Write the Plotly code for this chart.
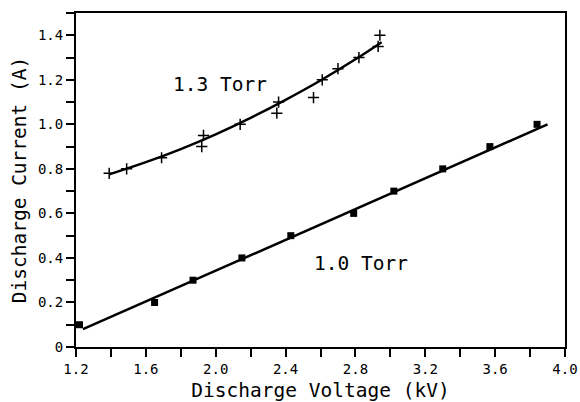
import plotly.graph_objects as go

# 1.0 Torr data (squares)
v10 = [1.22, 1.65, 1.87, 2.15, 2.43, 2.79, 3.02, 3.30, 3.57, 3.84]
i10 = [0.10, 0.20, 0.30, 0.40, 0.50, 0.60, 0.70, 0.80, 0.90, 1.00]
# 1.0 Torr fitted line endpoints
fit10_v = [1.24, 3.90]
fit10_i = [0.08, 1.00]

# 1.3 Torr data (pluses)
v13 = [1.39, 1.49, 1.69, 1.92, 1.93, 2.14, 2.35, 2.36, 2.56, 2.61, 2.70, 2.82, 2.93, 2.94]
i13 = [0.78, 0.80, 0.85, 0.90, 0.95, 1.00, 1.05, 1.10, 1.12, 1.20, 1.25, 1.30, 1.35, 1.40]
# 1.3 Torr fitted curve
fit13_v = [1.39, 1.60, 1.80, 2.00, 2.20, 2.40, 2.60, 2.80, 2.95]
fit13_i = [0.775, 0.830, 0.889, 0.955, 1.029, 1.110, 1.197, 1.292, 1.369]

xticks = [1.2, 1.6, 2.0, 2.4, 2.8, 3.2, 3.6, 4.0]
xticklabels = ["1.2", "1.6", "2.0", "2.4", "2.8", "3.2", "3.6", "4.0"]
yticks = [0, 0.2, 0.4, 0.6, 0.8, 1.0, 1.2, 1.4]
yticklabels = ["0", "0.2", "0.4", "0.6", "0.8", "1.0", "1.2", "1.4"]

FONT = "DejaVu Sans Mono"

fig = go.Figure()
fig.add_trace(go.Scatter(x=fit10_v, y=fit10_i, mode="lines",
                         line=dict(color="black", width=2.5), showlegend=False))
fig.add_trace(go.Scatter(x=v10, y=i10, mode="markers",
                         marker=dict(symbol="square", size=7, color="black"), showlegend=False))
fig.add_trace(go.Scatter(x=fit13_v, y=fit13_i, mode="lines",
                         line=dict(color="black", width=2.5, shape="spline", smoothing=1.0),
                         showlegend=False))
fig.add_trace(go.Scatter(x=v13, y=i13, mode="markers",
                         marker=dict(symbol="cross-thin", size=8, color="black",
                                     line=dict(color="black", width=1.5)), showlegend=False))

fig.add_annotation(x=2.025, y=1.18, text="1.3 Torr", showarrow=False,
                   font=dict(family=FONT, size=19.5, color="black"))
fig.add_annotation(x=2.83, y=0.376, text="1.0 Torr", showarrow=False,
                   font=dict(family=FONT, size=19.5, color="black"))

axis_common = dict(showgrid=False, zeroline=False, showline=True, linecolor="black",
                   linewidth=2, mirror=True, ticks="outside", ticklen=8, tickwidth=1.5,
                   tickcolor="black", ticklabelstandoff=0, automargin=False,
                   tickfont=dict(family=FONT, size=14, color="black"))

fig.update_xaxes(range=[1.2, 4.0], tickvals=xticks, ticktext=xticklabels,
                 minor=dict(dtick=0.2, tick0=1.2, ticks="outside", ticklen=8, tickwidth=1.5, tickcolor="black"),
                 title=dict(text="Discharge Voltage (kV)", font=dict(family=FONT, size=19.5, color="black"), standoff=10),
                 **axis_common)
fig.update_yaxes(range=[0, 1.5], tickvals=yticks, ticktext=yticklabels,
                 minor=dict(dtick=0.1, tick0=0, ticks="outside", ticklen=8, tickwidth=1.5, tickcolor="black"),
                 title=dict(text="Discharge Current (A)", font=dict(family=FONT, size=19.5, color="black"), standoff=6),
                 **axis_common)

fig.update_layout(width=580, height=402, margin=dict(l=76, r=15, t=13, b=55),
                  paper_bgcolor="white", plot_bgcolor="white")

fig.write_html("out.html", config={"displayModeBar": False},
               post_script="document.body.style.margin='0';")
